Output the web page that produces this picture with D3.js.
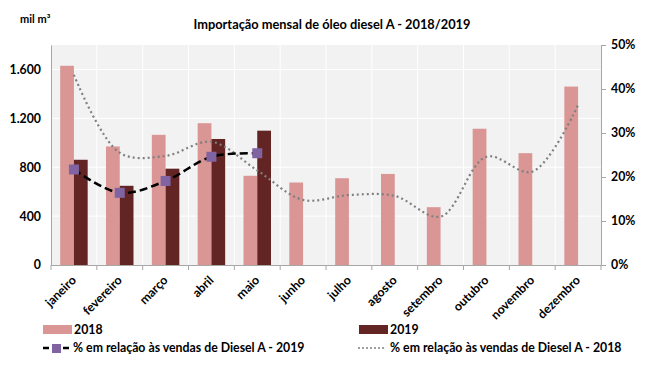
<!DOCTYPE html>
<html><head><meta charset="utf-8">
<script src="https://cdn.jsdelivr.net/npm/d3@7"></script>
<style>
html,body{margin:0;padding:0;background:#fff;}
text{font-family:Lato,"Open Sans",sans-serif;font-weight:bold;fill:#000;}
</style></head>
<body><svg id="c" width="654" height="374"></svg>
<script>
const months = ["janeiro","fevereiro","março","abril","maio","junho","julho","agosto","setembro","outubro","novembro","dezembro"];
const imports2018 = [1630,970,1065,1160,730,675,710,745,473,1115,915,1460];
const imports2019 = [861,648,788,1031,1099];
const pct2019 = [21.7,16.4,19.1,24.6,25.4];
const pct2018 = [43.2,25.5,24.8,28.0,21.5,14.8,15.9,15.7,11.0,24.6,21.2,36.4];
const leftTicks = [0,400,800,1200,1600];
const rightTicks = [0,10,20,30,40,50];
const title = "Importação mensal de óleo diesel A - 2018/2019";
const unitLabel = "mil m³";
const legend2018 = "2018", legend2019 = "2019";
const legendPct2019 = "% em relação às vendas de Diesel A - 2019";
const legendPct2018 = "% em relação às vendas de Diesel A - 2018";

const svg = d3.select("#c");
const L = 51, R = 601, T = 45, B = 265;
const x = d3.scaleBand().domain(months).range([L, R]).padding(0);
const bw = x.bandwidth();
const xs = d3.scaleBand().domain(["2018","2019"]).range([bw*0.2, bw*0.8]).padding(0);
const y = d3.scaleLinear().domain([0,1800]).range([B, T]);
const y2 = d3.scaleLinear().domain([0,50]).range([B, T]);
const fmt = d3.format(",");
const ptFmt = v => fmt(v).replace(/,/g, ".");

// plot background
svg.append("rect").attr("x", L).attr("y", T).attr("width", R-L).attr("height", B-T).attr("fill", "#f2f2f2");
// horizontal gridlines
svg.append("g").selectAll("line").data(leftTicks.slice(1)).join("line")
  .attr("x1", L).attr("x2", R).attr("y1", d => y(d)).attr("y2", d => y(d))
  .attr("stroke", "#ffffff").attr("stroke-width", 1);
// vertical gridlines
svg.append("g").selectAll("line").data(months.slice(1)).join("line")
  .attr("x1", d => x(d)).attr("x2", d => x(d)).attr("y1", T).attr("y2", B)
  .attr("stroke", "#ffffff").attr("stroke-width", 1);

// bars
svg.append("g").selectAll("rect").data(imports2018).join("rect")
  .attr("x", (d,i) => x(months[i]) + xs("2018")).attr("width", xs.bandwidth())
  .attr("y", d => y(d)).attr("height", d => B - y(d)).attr("fill", "#d99694");
svg.append("g").selectAll("rect").data(imports2019).join("rect")
  .attr("x", (d,i) => x(months[i]) + xs("2019")).attr("width", xs.bandwidth())
  .attr("y", d => y(d)).attr("height", d => B - y(d)).attr("fill", "#632523");

// axes
const axL = d3.axisLeft(y).tickValues(leftTicks).tickSize(0).tickPadding(10).tickFormat(ptFmt);
const gL = svg.append("g").attr("transform", `translate(${L},0)`).call(axL);
gL.select(".domain").attr("stroke", "#a6a6a6");
gL.selectAll("text").attr("font-size", 12.3).attr("font-family", "Lato").attr("font-weight", "bold");

const axR = d3.axisRight(y2).tickValues(rightTicks).tickSize(5).tickPadding(5).tickFormat(d => d + "%");
const gR = svg.append("g").attr("transform", `translate(${R},0)`).call(axR);
gR.select(".domain").attr("stroke", "#a6a6a6");
gR.selectAll("line").attr("stroke", "#a6a6a6");
gR.selectAll("text").attr("font-size", 12.3).attr("font-family", "Lato").attr("font-weight", "bold");

const axB = d3.axisBottom(x).tickSize(0).tickFormat("");
const gB = svg.append("g").attr("transform", `translate(0,${B})`).call(axB);
gB.select(".domain").attr("stroke", "#a6a6a6");
gB.selectAll(".tick").remove();
gB.selectAll("line.bt").data(months.concat(["_end"])).join("line").attr("class","bt")
  .attr("x1", (d,i) => i < 12 ? x(d) : R).attr("x2", (d,i) => i < 12 ? x(d) : R)
  .attr("y1", 0).attr("y2", 5).attr("stroke", "#a6a6a6");
gB.selectAll("text.ml").data(months).join("text").attr("class","ml")
  .attr("transform", d => `translate(${x(d)+bw/2+3},${16}) rotate(-45)`)
  .attr("text-anchor", "end").attr("font-size", 12.3).text(d => d);

// lines
const cx = i => x(months[i]) + bw/2;
const line18 = d3.line().x((d,i) => cx(i)).y(d => y2(d)).curve(d3.curveCatmullRom.alpha(0.5));
svg.append("path").datum(pct2018).attr("d", line18).attr("fill", "none")
  .attr("stroke", "#7f7f7f").attr("stroke-width", 2.2).attr("stroke-dasharray", "2,3");
const line19 = d3.line().x((d,i) => cx(i)).y(d => y2(d)).curve(d3.curveCatmullRom.alpha(0.5));
svg.append("path").datum(pct2019).attr("d", line19).attr("fill", "none")
  .attr("stroke", "#000").attr("stroke-width", 2.5).attr("stroke-dasharray", "8,4");
svg.append("g").selectAll("rect").data(pct2019).join("rect")
  .attr("x", (d,i) => cx(i) - 5).attr("y", d => y2(d) - 5).attr("width", 10).attr("height", 10)
  .attr("fill", "#8064a2");

// titles
svg.append("text").attr("x", 332).attr("y", 29).attr("text-anchor", "middle").attr("font-size", 12.8).text(title);
svg.append("text").attr("x", 20).attr("y", 23).attr("font-size", 11).text(unitLabel);

// legend
const lg = svg.append("g");
lg.append("rect").attr("x", 43).attr("y", 325).attr("width", 29).attr("height", 9).attr("fill", "#d99694");
lg.append("text").attr("x", 74).attr("y", 334).attr("font-size", 12.3).text(legend2018);
lg.append("rect").attr("x", 359).attr("y", 325).attr("width", 29).attr("height", 9).attr("fill", "#632523");
lg.append("text").attr("x", 390).attr("y", 334).attr("font-size", 12.3).text(legend2019);
lg.append("line").attr("x1", 43).attr("x2", 70).attr("y1", 348).attr("y2", 348)
  .attr("stroke", "#000").attr("stroke-width", 2.5).attr("stroke-dasharray", "6,4");
lg.append("rect").attr("x", 52).attr("y", 344).attr("width", 9).attr("height", 9).attr("fill", "#8064a2");
lg.append("text").attr("x", 73).attr("y", 352).attr("font-size", 12.3).text(legendPct2019);
lg.append("line").attr("x1", 358).attr("x2", 386).attr("y1", 348).attr("y2", 348)
  .attr("stroke", "#7f7f7f").attr("stroke-width", 1.5).attr("stroke-dasharray", "2,2");
lg.append("text").attr("x", 390).attr("y", 352).attr("font-size", 12.3).text(legendPct2018);
</script></body></html>
